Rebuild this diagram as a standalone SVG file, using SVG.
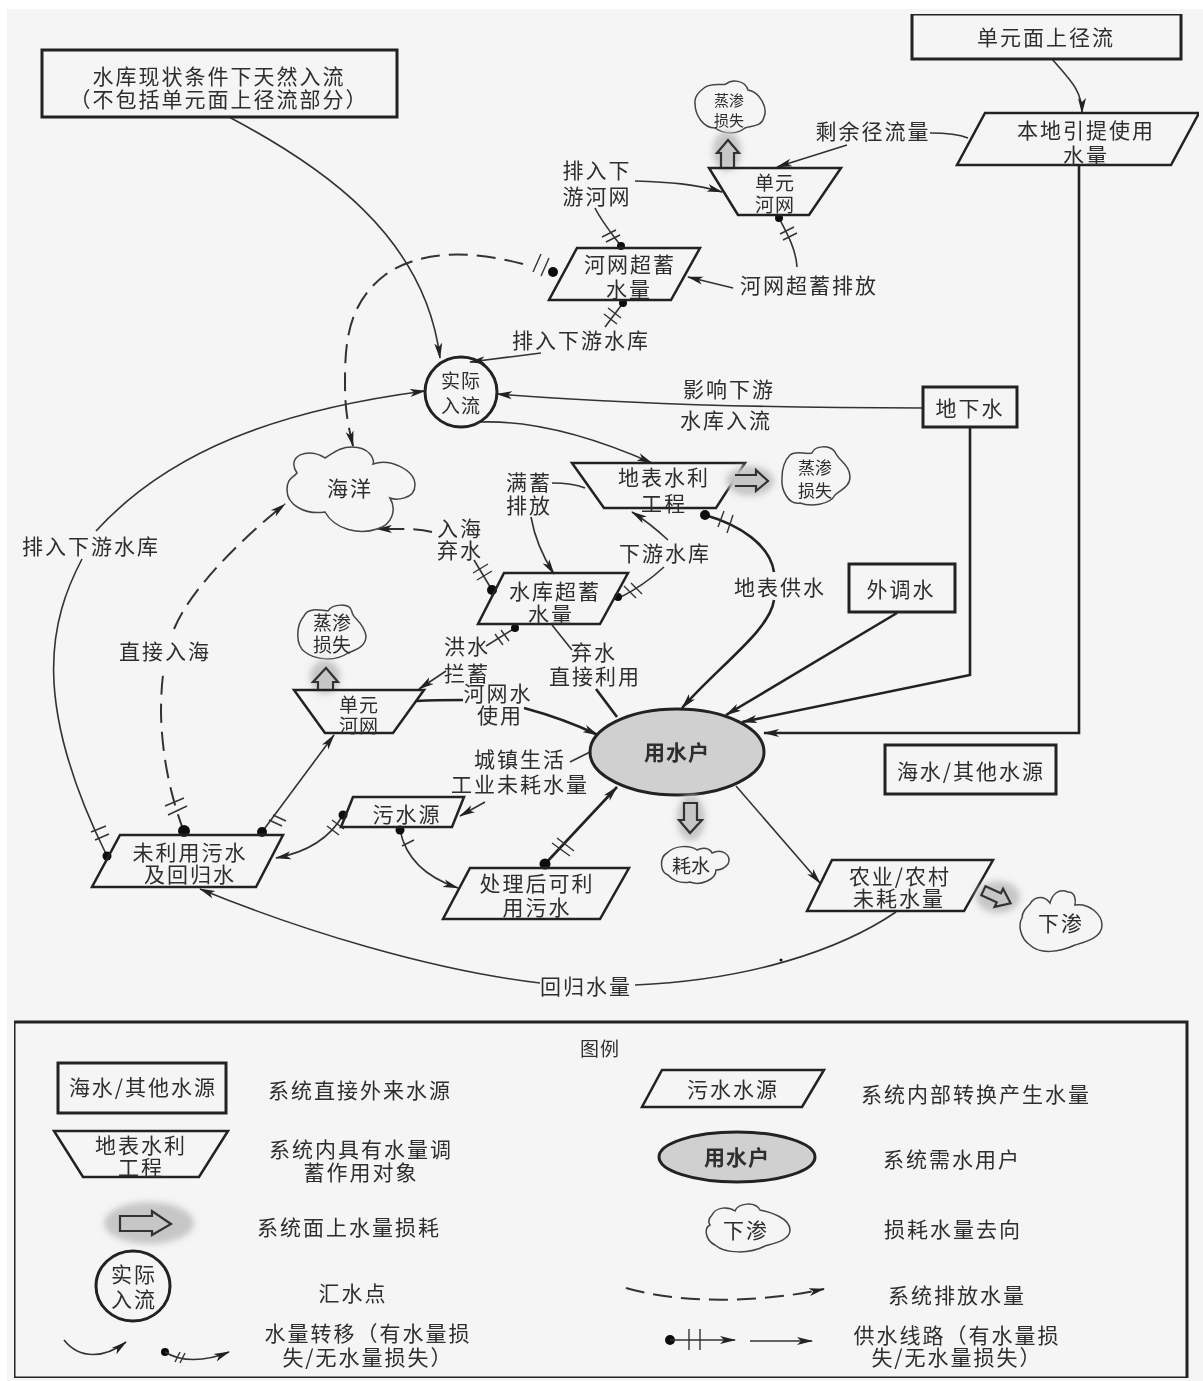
<svg xmlns="http://www.w3.org/2000/svg" width="1203" height="1381" viewBox="0 0 1203 1381">
<style>
text{font-family:"Noto Sans CJK SC","Noto Sans",sans-serif;fill:#2e2e2e;text-anchor:middle;font-size:21px;letter-spacing:2px;dominant-baseline:central}
tspan{dominant-baseline:central}
.s{font-size:19px;letter-spacing:1px}
.xs{font-size:15px;letter-spacing:0}
.m{font-size:17px;letter-spacing:0}
.n{font-size:19px;letter-spacing:0}
.b{font-weight:700;letter-spacing:1px}
.box{fill:none;stroke:#222;stroke-width:3}
.shape{fill:none;stroke:#222;stroke-width:2.5;stroke-linejoin:miter}
.cloud{fill:none;stroke:#444;stroke-width:1.5}
.halo{fill:#c6c6c6;filter:url(#blur)}
.hollow{fill:none;stroke:#333;stroke-width:2.2}
.user{fill:#d0d0d0;stroke:#222;stroke-width:3}
.l{fill:none;stroke:#333;stroke-width:1.6}
.t{fill:none;stroke:#222;stroke-width:2.6}
.d{fill:none;stroke:#333;stroke-width:2;stroke-dasharray:19 9}
.k{fill:none;stroke:#333;stroke-width:1.4}
.dot{fill:#111}
.a{marker-end:url(#arrow)}
</style>
<defs>
<marker id="arrow" markerUnits="userSpaceOnUse" markerWidth="18" markerHeight="10" refX="15" refY="5" orient="auto"><path d="M0,1 L16,5 L0,9 L4,5 Z" fill="#222"/></marker>
<filter id="blur" x="-30%" y="-30%" width="160%" height="160%"><feGaussianBlur stdDeviation="3"/></filter>
<filter id="soft" x="0" y="0" width="100%" height="100%"><feGaussianBlur stdDeviation="0.55"/></filter>
</defs>
<rect x="7" y="9" width="1196" height="1372" fill="#f5f5f5"/>
<g filter="url(#soft)">
<g id="connectors">
<path class="l a" d="M229,117 C320,165 425,235 440,358"/>
<path class="l a" d="M541,353 L470,362"/>
<path class="l" d="M623,303 L605,327"/>
<path class="k" d="M608,308 L621,318 M604,314 L617,324"/>
<path class="d a" d="M523,264 C470,250 420,250 385,275 C345,305 345,350 345,385 C345,410 348,425 353,446"/>
<path class="k" d="M533,272 L541,254 M541,276 L549,258"/>
<path class="l a" d="M635,181 C670,182 695,184 722,192"/>
<path class="l" d="M621,246 C612,234 602,222 595,208"/>
<path class="k" d="M602,237 L616,230 M606,242 L620,235"/>
<path class="l" d="M779,218 C788,235 796,250 797,267"/>
<path class="k" d="M780,234 L794,227 M783,240 L797,233"/>
<path class="l a" d="M733,288 L688,277"/>
<path class="l a" d="M847,145 L777,167"/>
<path class="l" d="M930,133 C945,133 958,134 968,138"/>
<path class="l a" d="M1052,59 C1070,80 1082,90 1082,113"/>
<path class="t a" d="M1079,165 V733 H764"/>
<path class="l a" d="M923,408 C780,408 640,405 497,394"/>
<path class="t a" d="M970,427 V675 L742,722"/>
<path class="t a" d="M897,613 L726,715"/>
<path class="t" d="M705,515 C740,525 770,545 774,572"/>
<path class="t a" d="M774,600 C770,630 720,665 682,708"/>
<path class="k" d="M724,511 L718,527 M733,515 L727,533"/>
<path class="l a" d="M480,422 C540,420 600,440 652,463"/>
<path class="l" d="M552,483 C565,483 575,484 585,488"/>
<path class="l a" d="M531,517 C535,540 545,560 554,574"/>
<path class="l a" d="M668,540 C655,528 645,520 632,512"/>
<path class="l" d="M664,567 C650,580 635,590 619,598"/>
<path class="k" d="M624,586 L636,598 M631,583 L642,594"/>
<path class="d a" d="M432,532 C415,528 400,529 377,529"/>
<path class="l" d="M474,560 L492,590"/>
<path class="k" d="M473,573 L488,564 M477,580 L492,571"/>
<path class="d" d="M184,832 C172,800 162,760 161,713 C161,695 162,680 164,668"/>
<path class="d a" d="M174,629 C190,590 240,540 285,504"/>
<path class="k" d="M165,806 L184,798 M168,815 L187,806"/>
<path class="l a" d="M96,531 C170,450 280,410 425,391"/>
<path class="l" d="M82,559 C50,620 30,700 107,856"/>
<path class="k" d="M91,832 L106,826 M95,840 L109,834"/>
<path class="l a" d="M262,832 L334,735"/>
<path class="k" d="M269,820 L282,826 M273,815 L286,821"/>
<path class="l a" d="M343,815 C330,838 308,852 276,858"/>
<path class="k" d="M327,826 L339,835 M332,820 L344,829"/>
<path class="l a" d="M400,830 C406,860 428,878 458,888"/>
<path class="k" d="M402,846 L414,840"/>
<path class="l" d="M570,762 L590,752"/>
<path class="l a" d="M485,802 L460,816"/>
<path class="t a" d="M545,864 L617,787"/>
<path class="k" d="M552,843 L570,856 M557,838 L574,851"/>
<path class="l a" d="M736,786 L820,883"/>
<path class="l" d="M896,912 C840,950 750,980 635,985"/>
<path class="l a" d="M540,983 C430,970 300,930 200,889"/>
<path class="t" d="M416,701 C435,700 450,700 463,700"/>
<path class="t a" d="M524,708 C550,715 575,724 598,735"/>
<path class="l" d="M515,628 L486,646"/>
<path class="k" d="M495,634 L503,645 M501,630 L509,641"/>
<path class="l a" d="M446,671 L419,689"/>
<path class="l" d="M552,625 L572,650"/>
<path class="t" d="M596,689 L617,717"/>
<circle class="dot" cx="553" cy="272" r="5"/>
<circle class="dot" cx="621" cy="246" r="4"/>
<circle class="dot" cx="623" cy="303" r="4"/>
<circle class="dot" cx="779" cy="218" r="4"/>
<circle class="dot" cx="705" cy="515" r="5"/>
<circle class="dot" cx="618" cy="597" r="4"/>
<circle class="dot" cx="492" cy="590" r="5"/>
<circle class="dot" cx="515" cy="628" r="4"/>
<circle class="dot" cx="184" cy="831" r="6"/>
<circle class="dot" cx="262" cy="832" r="5"/>
<circle class="dot" cx="107" cy="856" r="4.5"/>
<circle class="dot" cx="343" cy="815" r="4.5"/>
<circle class="dot" cx="400" cy="830" r="4.5"/>
<circle class="dot" cx="545" cy="864" r="5.5"/>
<circle class="dot" cx="781" cy="960" r="1.5"/>
</g>
<g id="n-natural"><rect class="box" x="42" y="50" width="355" height="67"/><text><tspan x="219" y="75">水库现状条件下天然入流</tspan><tspan x="219" y="98">（不包括单元面上径流部分）</tspan></text></g>
<g id="n-runoff"><rect class="box" x="912" y="14" width="269" height="45"/><text x="1046" y="36">单元面上径流</text></g>
<g id="n-local"><path class="shape" d="M985,113 H1199 L1171,165 H957 Z"/><text><tspan x="1086" y="129">本地引提使用</tspan><tspan x="1086" y="154">水量</tspan></text></g>
<g id="n-loss1"><path class="cloud" d="M704,88 C712,82 722,86 726,84 C732,79 745,80 748,90 C760,92 768,108 764,117 C762,127 750,126 745,128 C735,136 722,133 715,128 C703,128 695,115 695,103 C694,96 700,91 704,88 Z"/><text class="xs"><tspan x="729" y="99">蒸渗</tspan><tspan x="729" y="119">损失</tspan></text></g>
<g id="n-lossarrow1"><ellipse class="halo" cx="727" cy="151" rx="14" ry="20"/><path class="hollow" d="M721,168 V153 H717 L728,140 L739,153 H734 V168"/></g>
<g id="n-net1"><path class="shape" d="M709,168 H841 L809,215 H738 Z"/><text class="s"><tspan x="775" y="181">单元</tspan><tspan x="775" y="203">河网</tspan></text></g>
<g id="n-netover"><path class="shape" d="M577,248 H700 L671,300 H549 Z"/><text><tspan x="630" y="263">河网超蓄</tspan><tspan x="629" y="288">水量</tspan></text></g>
<g id="n-inflow"><ellipse class="box" cx="461" cy="392" rx="36" ry="35"/><text class="s"><tspan x="461" y="379">实际</tspan><tspan x="461" y="404">入流</tspan></text></g>
<g id="n-ground"><rect class="box" x="923" y="387" width="94" height="40"/><text x="970" y="407">地下水</text></g>
<g id="n-surface"><path class="shape" d="M572,463 H745 L716,508 H604 Z"/><text><tspan x="664" y="476">地表水利</tspan><tspan x="664" y="502">工程</tspan></text></g>
<g id="n-lossarrow2"><ellipse class="halo" cx="750" cy="481" rx="24" ry="15"/><path class="hollow" d="M735,475 H756 V470 L768,481 L756,491 V486 H735"/></g>
<g id="n-loss2"><path class="cloud" d="M790,455 C797,450 805,455 812,453 C815,445 830,445 835,452 C838,460 850,465 850,477 C850,487 840,490 835,495 C830,505 810,507 800,503 C788,505 781,490 782,478 C782,468 785,460 790,455 Z"/><text class="m"><tspan x="815" y="466">蒸渗</tspan><tspan x="815" y="489">损失</tspan></text></g>
<g id="n-sea"><path class="cloud" d="M352,447 C370,447 375,460 373,464 C390,458 415,470 415,485 C415,500 395,500 390,498 C397,510 392,525 377,529 C360,535 335,530 325,512 C305,515 287,505 287,490 C287,478 293,478 297,473 C285,455 310,447 325,458 C335,452 340,447 352,447 Z"/><text x="350" y="487">海洋</text></g>
<g id="n-resover"><path class="shape" d="M504,573 H628 L600,624 H478 Z"/><text><tspan x="555" y="590">水库超蓄</tspan><tspan x="551" y="613">水量</tspan></text></g>
<g id="n-transfer"><rect class="box" x="849" y="564" width="106" height="48"/><text x="901" y="588">外调水</text></g>
<g id="n-loss3"><path class="cloud" d="M304,616 C308,607 320,610 328,611 C332,604 350,602 352,612 C352,618 364,622 366,636 C366,647 355,650 348,653 C335,662 315,660 305,652 C295,645 296,625 304,616 Z"/><text class="n"><tspan x="332" y="621">蒸渗</tspan><tspan x="332" y="643">损失</tspan></text></g>
<g id="n-lossarrow3"><ellipse class="halo" cx="325" cy="677" rx="15" ry="17"/><path class="hollow" d="M318,690 V682 H313 L326,668 L338,682 H333 V690"/></g>
<g id="n-net2"><path class="shape" d="M294,690 H424 L393,733 H325 Z"/><text class="s"><tspan x="359" y="703">单元</tspan><tspan x="359" y="724">河网</tspan></text></g>
<g id="n-user"><ellipse class="user" cx="677" cy="752" rx="87" ry="43"/><text class="b" x="677" y="751">用水户</text></g>
<g id="n-other"><rect class="box" x="885" y="745" width="171" height="49"/><text x="971" y="770">海水/其他水源</text></g>
<g id="n-sewage"><path class="shape" d="M353,797 H464 L452,827 H341 Z"/><text x="407" y="813">污水源</text></g>
<g id="n-unused"><path class="shape" d="M120,835 H283 L256,887 H92 Z"/><text><tspan x="190" y="851">未利用污水</tspan><tspan x="190" y="873">及回归水</tspan></text></g>
<g id="n-treated"><path class="shape" d="M470,868 H629 L600,919 H443 Z"/><text><tspan x="537" y="882">处理后可利</tspan><tspan x="537" y="906">用污水</tspan></text></g>
<g id="n-lossarrow4"><ellipse class="halo" cx="691" cy="818" rx="14" ry="23"/><path class="hollow" d="M684,803 H697 V820 H702 L690,833 L679,820 H684 Z"/></g>
<g id="n-consume"><path class="cloud" d="M667,853 C675,845 690,845 697,850 C703,847 710,848 712,853 C722,848 732,855 728,864 C725,868 720,870 716,870 C716,880 700,886 690,882 C680,884 672,880 668,875 C660,872 659,858 667,853 Z"/><text class="n" x="691" y="864">耗水</text></g>
<g id="n-agri"><path class="shape" d="M832,860 H993 L964,911 H807 Z"/><text><tspan x="900" y="875">农业/农村</tspan><tspan x="899" y="897">未耗水量</tspan></text></g>
<g id="n-lossarrow5"><ellipse class="halo" cx="998" cy="897" rx="22" ry="16"/><path class="hollow" transform="translate(997,897) rotate(25)" d="M-15,-5 H2 V-10 L15,0 L2,10 V5 H-15 Z"/></g>
<g id="n-seep"><path class="cloud" d="M1030,904 C1035,895 1045,896 1050,903 C1052,895 1058,888 1068,892 C1075,892 1076,900 1075,905 C1090,903 1102,915 1102,925 C1102,938 1085,942 1075,945 C1060,952 1040,955 1030,945 C1020,938 1018,925 1022,918 C1022,912 1026,908 1030,904 Z"/><text x="1061" y="922">下渗</text></g>
<g id="labels">
<text><tspan x="597" y="169">排入下</tspan><tspan x="597" y="195">游河网</tspan></text>
<text x="873" y="130">剩余径流量</text>
<text x="809" y="284">河网超蓄排放</text>
<text x="581" y="339">排入下游水库</text>
<text x="729" y="388">影响下游</text><text x="726" y="419">水库入流</text>
<text><tspan x="529" y="481">满蓄</tspan><tspan x="529" y="504">排放</tspan></text>
<text x="665" y="552">下游水库</text>
<text x="780" y="586">地表供水</text>
<text><tspan x="460" y="527">入海</tspan><tspan x="460" y="549">弃水</tspan></text>
<text x="91" y="545">排入下游水库</text>
<text x="165" y="650">直接入海</text>
<text><tspan x="467" y="645">洪水</tspan><tspan x="467" y="672">拦蓄</tspan></text>
<text><tspan x="498" y="692">河网水</tspan><tspan x="500" y="714">使用</tspan></text>
<text><tspan x="594" y="651">弃水</tspan><tspan x="595" y="675">直接利用</tspan></text>
<text><tspan x="520" y="758">城镇生活</tspan><tspan x="520" y="783">工业未耗水量</tspan></text>
<text x="586" y="985">回归水量</text>
</g>
<g id="legend">
<rect class="box" x="14" y="1022" width="1173" height="356"/>
<text class="s" x="600" y="1047">图例</text>
<g id="lg-source"><rect class="box" x="58" y="1063" width="168" height="50"/><text x="143" y="1086">海水/其他水源</text></g>
<text x="360" y="1089">系统直接外来水源</text>
<g id="lg-store"><path class="shape" d="M54,1131 H228 L199,1177 H83 Z"/><text><tspan x="141" y="1144">地表水利</tspan><tspan x="141" y="1166">工程</tspan></text></g>
<text><tspan x="361" y="1148">系统内具有水量调</tspan><tspan x="361" y="1171">蓄作用对象</tspan></text>
<g id="lg-loss"><ellipse class="halo" cx="149" cy="1223" rx="45" ry="21"/><path class="hollow" d="M120,1216 H152 V1211 L171,1224 L152,1235 V1231 H120 Z"/></g>
<text x="349" y="1226">系统面上水量损耗</text>
<g id="lg-sink"><ellipse class="box" cx="133" cy="1286" rx="37" ry="35"/><text><tspan x="134" y="1273">实际</tspan><tspan x="134" y="1298">入流</tspan></text></g>
<text x="353" y="1292">汇水点</text>
<path class="l a" d="M64,1340 C80,1360 105,1358 126,1342"/>
<circle class="dot" cx="165" cy="1352" r="4"/>
<path class="l a" d="M165,1352 C180,1362 205,1362 229,1352"/>
<path class="k" d="M175,1362 L180,1352 M180,1363 L185,1353"/>
<text><tspan x="368" y="1332">水量转移（有水量损</tspan><tspan x="368" y="1356">失/无水量损失）</tspan></text>
<g id="lg-internal"><path class="shape" d="M662,1070 H824 L802,1107 H642 Z"/><text x="733" y="1088">污水水源</text></g>
<text x="976" y="1093">系统内部转换产生水量</text>
<g id="lg-user"><ellipse class="user" cx="737" cy="1157" rx="78" ry="25"/><text class="b" x="737" y="1156">用水户</text></g>
<text x="952" y="1158">系统需水用户</text>
<g id="lg-dest"><path class="cloud" d="M712,1215 C716,1207 728,1206 735,1211 C738,1203 755,1201 760,1210 C770,1212 790,1218 790,1230 C790,1240 775,1243 765,1246 C750,1254 725,1254 715,1245 C705,1240 704,1228 710,1225 C708,1222 709,1218 712,1215 Z"/><text x="746" y="1229">下渗</text></g>
<text x="953" y="1228">损耗水量去向</text>
<path class="d a" d="M626,1288 C680,1304 760,1303 824,1289"/>
<text x="957" y="1294">系统排放水量</text>
<circle class="dot" cx="670" cy="1340" r="5"/>
<path class="l a" d="M670,1340 H735"/>
<path class="k" d="M689,1329 V1350 M700,1329 V1350"/>
<path class="l a" d="M750,1341 H812"/>
<text><tspan x="957" y="1334">供水线路（有水量损</tspan><tspan x="957" y="1356">失/无水量损失）</tspan></text>
</g>
</g>
</svg>
